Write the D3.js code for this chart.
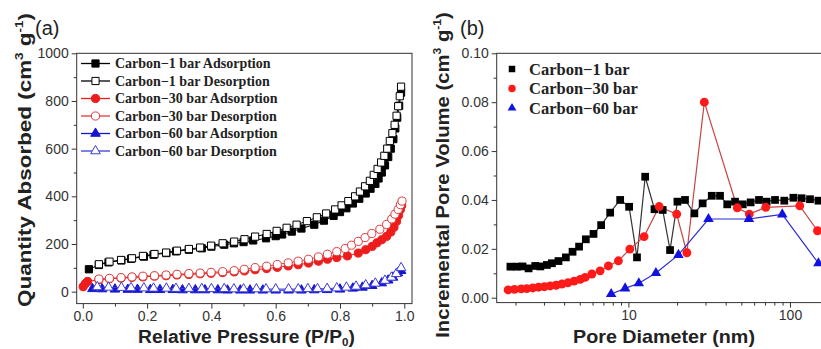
<!DOCTYPE html>
<html><head><meta charset="utf-8">
<script src="https://cdn.jsdelivr.net/npm/d3@7"></script>
<style>body{margin:0;background:#fff}svg{display:block}</style>
</head><body>
<svg id="c" width="821" height="349"></svg>
<script>
// ---------------- data ----------------
const xTicksA = [0, 0.2, 0.4, 0.6, 0.8, 1.0];
const yTicksA = [0, 200, 400, 600, 800, 1000];
const yTicksB = [0, 0.02, 0.04, 0.06, 0.08, 0.10];
const xTicksB = [10, 100];
const legendA = ["Carbon\u22121 bar Adsorption", "Carbon\u22121 bar Desorption",
  "Carbon\u221230 bar Adsorption", "Carbon\u221230 bar Desorption",
  "Carbon\u221260 bar Adsorption", "Carbon\u221260 bar Desorption"];
const legendB = ["Carbon\u22121 bar", "Carbon\u221230 bar", "Carbon\u221260 bar"];

// (a) isotherms: [P/P0, quantity]
const c1Ads = [[0.019,94],[0.05,112],[0.08,123],[0.12,131],[0.15,138],[0.19,147],[0.22,155],[0.26,162],[0.29,169],[0.33,176],[0.37,182],[0.40,189],[0.44,197],[0.47,203],[0.50,208],[0.53,215],[0.57,224],[0.60,233],[0.62,240],[0.65,252],[0.68,265],[0.72,281],[0.75,298],[0.78,318],[0.80,334],[0.82,350],[0.84,370],[0.86,390],[0.88,412],[0.895,432],[0.91,452],[0.92,475],[0.93,500],[0.94,530],[0.95,565],[0.958,600],[0.966,640],[0.972,685],[0.978,730],[0.984,780],[0.99,835]];
const c1Des = [[0.05,115],[0.083,126],[0.119,133],[0.153,140],[0.187,150],[0.223,158],[0.259,164],[0.293,172],[0.33,179],[0.365,185],[0.399,193],[0.435,203],[0.471,210],[0.503,220],[0.536,231],[0.572,242],[0.603,255],[0.634,268],[0.665,281],[0.697,296],[0.728,312],[0.757,328],[0.785,345],[0.805,362],[0.826,380],[0.847,400],[0.862,420],[0.878,442],[0.893,465],[0.905,490],[0.917,515],[0.928,542],[0.938,570],[0.947,600],[0.955,632],[0.963,665],[0.97,700],[0.976,738],[0.981,778],[0.986,820],[0.99,860]];
const c30Ads = [[0.001,21],[0.008,34],[0.015,43],[0.05,50],[0.083,54],[0.119,57],[0.153,60],[0.187,62],[0.223,65],[0.259,67],[0.293,70],[0.33,72],[0.365,75],[0.399,77],[0.435,80],[0.471,83],[0.503,87],[0.536,92],[0.572,97],[0.605,102],[0.639,108],[0.67,113],[0.702,120],[0.733,128],[0.761,136],[0.79,143],[0.823,150],[0.857,162],[0.88,176],[0.9,190],[0.915,205],[0.93,218],[0.945,232],[0.958,250],[0.968,270],[0.976,295],[0.982,320],[0.988,345],[0.992,362]];
const c30Des = [[0.05,53],[0.083,56],[0.119,59],[0.153,62],[0.187,65],[0.223,67],[0.259,70],[0.293,73],[0.33,76],[0.365,78],[0.399,81],[0.435,84],[0.471,88],[0.502,94],[0.536,101],[0.572,107],[0.605,114],[0.639,121],[0.67,128],[0.702,136],[0.733,146],[0.761,157],[0.79,168],[0.816,181],[0.836,195],[0.857,211],[0.878,227],[0.899,244],[0.924,262],[0.945,282],[0.961,305],[0.971,325],[0.981,345],[0.988,365],[0.993,380]];
const c60Ads = [[0.03,12],[0.06,11],[0.10,10],[0.14,9],[0.17,9],[0.21,8],[0.24,8],[0.28,8],[0.31,7],[0.35,7],[0.38,7],[0.42,7],[0.45,6],[0.49,6],[0.52,6],[0.56,6],[0.60,6],[0.64,6],[0.68,6],[0.72,7],[0.76,8],[0.80,10],[0.84,14],[0.87,18],[0.90,25],[0.93,36],[0.95,48],[0.965,60],[0.98,78],[0.99,88]];
const c60Des = [[0.045,20],[0.08,18],[0.12,17],[0.15,16],[0.19,15],[0.22,14],[0.26,14],[0.29,13],[0.33,13],[0.37,12],[0.40,12],[0.44,12],[0.47,11],[0.50,11],[0.54,11],[0.57,11],[0.60,11],[0.64,11],[0.67,11],[0.70,12],[0.73,12],[0.76,13],[0.79,15],[0.82,18],[0.85,22],[0.88,28],[0.91,35],[0.94,47],[0.96,60],[0.975,75],[0.99,100]];

// (b) pore size distribution
const c1PoreD = [1.86,2.04,2.21,2.41,2.65,2.85,3.13,3.36,3.69,4.10,4.51,4.95,5.45,6.08,6.78,7.71,8.89,10.1,11.3,12.7,14.5,16.3,18.1,20.1,22.4,25.6,28.8,32.8,36.9,40.9,45.7,51.0,57.1,64.3,71.7,80.8,92.2,105,118,133,150];
const c1PoreV = [0.0127,0.0127,0.0128,0.0120,0.0130,0.0128,0.0134,0.0141,0.0150,0.0165,0.0188,0.0209,0.0239,0.0261,0.0297,0.0348,0.0400,0.0372,0.0165,0.0495,0.0362,0.0359,0.0195,0.0393,0.0400,0.0345,0.0386,0.0417,0.0417,0.0382,0.0393,0.0382,0.0390,0.0400,0.0393,0.0400,0.0397,0.0409,0.0407,0.0403,0.0397];
const c30PoreD = [1.80,1.97,2.17,2.35,2.56,2.78,3.02,3.28,3.57,3.87,4.22,4.61,5.03,5.40,5.94,6.68,7.52,8.67,10.2,12.5,15.5,19.9,23.0,29.5,47.2,56.0,70.8,115,148];
const c30PoreV = [0.0032,0.0034,0.0036,0.0037,0.0040,0.0043,0.0045,0.0048,0.0051,0.0056,0.0061,0.0068,0.0075,0.0083,0.0097,0.0110,0.0130,0.0151,0.0199,0.0250,0.0373,0.0342,0.0184,0.0800,0.0368,0.0342,0.0370,0.0376,0.0274];
const c60PoreD = [7.82,9.54,11.6,14.8,20.4,31.3,55.7,89.6,150];
const c60PoreV = [0.0015,0.0038,0.0059,0.0101,0.0175,0.0322,0.0322,0.0341,0.0141];

// ---------------- drawing ----------------
const svg = d3.select("#c");
const SANS = "'Liberation Sans', Arial, sans-serif";
const SERIF = "'Liberation Serif', 'Times New Roman', serif";
const AX = "#333";

const RED = "#ee1c1c", RED_L = "#dc3c3c", BLUE = "#1515d2", BLUE_L = "#3c3cd8";

const styles = {
  c1Ads:  {shape: d3.symbolSquare,   fill: "#000", stroke: "#000", line: "#000"},
  c1Des:  {shape: d3.symbolSquare,   fill: "#fff", stroke: "#000", line: "#000"},
  c30Ads: {shape: d3.symbolCircle,   fill: RED,    stroke: RED,    line: RED},
  c30Des: {shape: d3.symbolCircle,   fill: "#fff", stroke: RED_L,  line: RED_L},
  c60Ads: {shape: d3.symbolTriangle, fill: BLUE,   stroke: BLUE,   line: BLUE},
  c60Des: {shape: d3.symbolTriangle, fill: "#fff", stroke: BLUE_L, line: BLUE_L}
};
const sizeA = new Map([[d3.symbolSquare, 52], [d3.symbolCircle, 52], [d3.symbolTriangle, 40]]);
const sizeB = new Map([[d3.symbolSquare, 60], [d3.symbolCircle, 62], [d3.symbolTriangle, 48]]);

function fitText(g, cx, cy, target, vertical) {
  const t = g.select("text");
  const w = t.node().getBBox().width;
  const s = target / w;
  g.attr("transform", `translate(${cx},${cy}) rotate(${vertical ? -90 : 0}) scale(${s},1)`);
}

function styleAxis(g) {
  g.select(".domain").remove();
  g.selectAll(".tick line").attr("stroke", AX).attr("stroke-width", 1);
  g.selectAll(".tick text").attr("fill", "#333").attr("font-family", SANS).attr("font-size", 14);
}

// ===== Panel (a) =====
const xA = d3.scaleLinear().domain([-0.019, 1.024]).range([76.7, 412]);
const yA = d3.scaleLinear().domain([-50, 1000]).range([303.6, 53.3]);
const gA = svg.append("g");

gA.append("g").attr("transform", `translate(0,${yA.range()[0]})`)
  .call(d3.axisBottom(xA).tickValues(d3.range(0, 1.001, 0.1).filter((d, i) => i % 2 === 1)).tickSize(3).tickFormat(""))
  .call(styleAxis);
gA.append("g").attr("transform", `translate(0,${yA.range()[0]})`)
  .call(d3.axisBottom(xA).tickValues(xTicksA).tickSize(5).tickPadding(2).tickFormat(d3.format(".1f")))
  .call(styleAxis);
gA.append("g").attr("transform", `translate(${xA.range()[0]},0)`)
  .call(d3.axisLeft(yA).tickValues(d3.range(100, 1000, 200)).tickSize(3).tickFormat(""))
  .call(styleAxis);
gA.append("g").attr("transform", `translate(${xA.range()[0]},0)`)
  .call(d3.axisLeft(yA).tickValues(yTicksA).tickSize(5).tickPadding(3).tickFormat(d3.format("d")))
  .call(styleAxis);

gA.append("rect").attr("x", xA.range()[0]).attr("y", yA.range()[1])
  .attr("width", xA.range()[1] - xA.range()[0]).attr("height", yA.range()[0] - yA.range()[1])
  .attr("fill", "none").attr("stroke", AX).attr("stroke-width", 1);

const seriesA = [["c1Ads", c1Ads], ["c1Des", c1Des], ["c30Ads", c30Ads], ["c30Des", c30Des], ["c60Ads", c60Ads], ["c60Des", c60Des]];
const lineA = d3.line().x(d => xA(d[0])).y(d => yA(d[1]));
seriesA.forEach(([k, data]) => {
  const st = styles[k];
  const g = gA.append("g");
  g.append("path").attr("d", lineA(data)).attr("fill", "none").attr("stroke", st.line).attr("stroke-width", 1);
  g.selectAll("path.m").data(data).join("path").attr("class", "m")
    .attr("d", d3.symbol().type(st.shape).size(sizeA.get(st.shape)))
    .attr("transform", d => `translate(${xA(d[0])},${yA(d[1])})`)
    .attr("fill", st.fill).attr("stroke", st.stroke).attr("stroke-width", 1);
});

// legend (a)
const legA = gA.append("g");
seriesA.forEach(([k], i) => {
  const st = styles[k];
  const yy = 63.5 + i * 17.5;
  legA.append("line").attr("x1", 81).attr("x2", 110).attr("y1", yy).attr("y2", yy)
    .attr("stroke", st.line).attr("stroke-width", 1.3);
  legA.append("path").attr("d", d3.symbol().type(st.shape).size(sizeA.get(st.shape))())
    .attr("transform", `translate(95.5,${yy})`)
    .attr("fill", st.fill).attr("stroke", st.stroke).attr("stroke-width", 1);
  legA.append("text").attr("x", 115).attr("y", yy).attr("dy", "0.34em")
    .attr("font-family", SERIF).attr("font-weight", "bold").attr("font-size", 14)
    .attr("fill", "#222").text(legendA[i]);
});

// titles (a)
svg.append("text").attr("x", 35).attr("y", 35).attr("font-family", SANS).attr("font-size", 20)
  .attr("fill", "#222").text("(a)");

const xtA = svg.append("g");
const xtAText = xtA.append("text").attr("text-anchor", "middle").attr("font-family", SANS)
  .attr("font-weight", "bold").attr("font-size", 18).attr("fill", "#222");
xtAText.append("tspan").text("Relative Pressure (P/P");
xtAText.append("tspan").attr("font-size", "0.6em").attr("dy", "0.35em").text("0");
xtAText.append("tspan").attr("dy", "-0.21em").text(")");
fitText(xtA, 246.5, 342.5, 217, false);

const ytA = svg.append("g");
const ytAText = ytA.append("text").attr("text-anchor", "middle").attr("font-family", SANS)
  .attr("font-weight", "bold").attr("font-size", 18.5).attr("fill", "#222");
ytAText.append("tspan").text("Quantity Absorbed (cm");
ytAText.append("tspan").attr("font-size", "0.6em").attr("dy", "-0.75em").text("3");
ytAText.append("tspan").attr("dy", "0.45em").text(" g");
ytAText.append("tspan").attr("font-size", "0.6em").attr("dy", "-0.75em").text("-1");
ytAText.append("tspan").attr("dy", "0.45em").text(")");
fitText(ytA, 31, 160, 294, true);

// ===== Panel (b) =====
const xB = d3.scaleLog().domain([1.53, 204]).range([496.7, 840]);
const yB = d3.scaleLinear().domain([-0.002, 0.10]).range([302.6, 53.3]);
const gB = svg.append("g");

const minorB = [];
[1, 10, 100].forEach(dec => { for (let m = 2; m <= 9; m++) { const v = m * dec; if (v > 1.53 && v < 204) minorB.push(v); } });
gB.append("g").attr("transform", `translate(0,${yB.range()[0]})`)
  .call(d3.axisBottom(xB).tickValues(minorB).tickSize(3).tickFormat(""))
  .call(styleAxis);
gB.append("g").attr("transform", `translate(0,${yB.range()[0]})`)
  .call(d3.axisBottom(xB).tickValues(xTicksB).tickSize(5).tickPadding(2).tickFormat(d3.format("d")))
  .call(styleAxis);
gB.append("g").attr("transform", `translate(${xB.range()[0]},0)`)
  .call(d3.axisLeft(yB).tickValues([0.01, 0.03, 0.05, 0.07, 0.09]).tickSize(3).tickFormat(""))
  .call(styleAxis);
gB.append("g").attr("transform", `translate(${xB.range()[0]},0)`)
  .call(d3.axisLeft(yB).tickValues(yTicksB).tickSize(5).tickPadding(3).tickFormat(d3.format(".2f")))
  .call(styleAxis);

gB.append("rect").attr("x", xB.range()[0]).attr("y", yB.range()[1])
  .attr("width", xB.range()[1] - xB.range()[0]).attr("height", yB.range()[0] - yB.range()[1])
  .attr("fill", "none").attr("stroke", AX).attr("stroke-width", 1);

const seriesB = [
  {d: c1PoreD, v: c1PoreV, shape: d3.symbolSquare, fill: "#000", line: "#333"},
  {d: c30PoreD, v: c30PoreV, shape: d3.symbolCircle, fill: "#ff1a1a", line: "#c84444"},
  {d: c60PoreD, v: c60PoreV, shape: d3.symbolTriangle, fill: "#1212e0", line: "#2b2bd0"}
];
const lineB = d3.line().x(d => xB(d[0])).y(d => yB(d[1]));
seriesB.forEach(s => {
  const pts = s.d.map((x, i) => [x, s.v[i]]);
  gB.append("path").attr("d", lineB(pts)).attr("fill", "none").attr("stroke", s.line).attr("stroke-width", 1.2);
});
seriesB.forEach(s => {
  const pts = s.d.map((x, i) => [x, s.v[i]]);
  gB.append("g").selectAll("path").data(pts).join("path")
    .attr("d", d3.symbol().type(s.shape).size(sizeB.get(s.shape)))
    .attr("transform", d => `translate(${xB(d[0])},${yB(d[1])})`)
    .attr("fill", s.fill);
});

// legend (b)
seriesB.forEach((s, i) => {
  const yy = 69 + i * 19.5;
  gB.append("path").attr("d", d3.symbol().type(s.shape).size(sizeB.get(s.shape) * 0.7)())
    .attr("transform", `translate(512,${yy})`).attr("fill", s.fill);
  gB.append("text").attr("x", 529).attr("y", yy).attr("dy", "0.34em")
    .attr("font-family", SERIF).attr("font-weight", "bold").attr("font-size", 16.5)
    .attr("fill", "#222").text(legendB[i]);
});

svg.append("text").attr("x", 460).attr("y", 35).attr("font-family", SANS).attr("font-size", 20)
  .attr("fill", "#222").text("(b)");

const xtB = svg.append("g");
xtB.append("text").attr("text-anchor", "middle").attr("font-family", SANS)
  .attr("font-weight", "bold").attr("font-size", 18).attr("fill", "#222").text("Pore Diameter (nm)");
fitText(xtB, 664, 342.5, 182, false);

const ytB = svg.append("g");
const ytBText = ytB.append("text").attr("text-anchor", "middle").attr("font-family", SANS)
  .attr("font-weight", "bold").attr("font-size", 18.5).attr("fill", "#222");
ytBText.append("tspan").text("Incremental Pore Volume (cm");
ytBText.append("tspan").attr("font-size", "0.6em").attr("dy", "-0.75em").text("3");
ytBText.append("tspan").attr("dy", "0.45em").text(" g");
ytBText.append("tspan").attr("font-size", "0.6em").attr("dy", "-0.75em").text("-1");
ytBText.append("tspan").attr("dy", "0.45em").text(")");
fitText(ytB, 449, 175, 326, true);
</script>
</body></html>
